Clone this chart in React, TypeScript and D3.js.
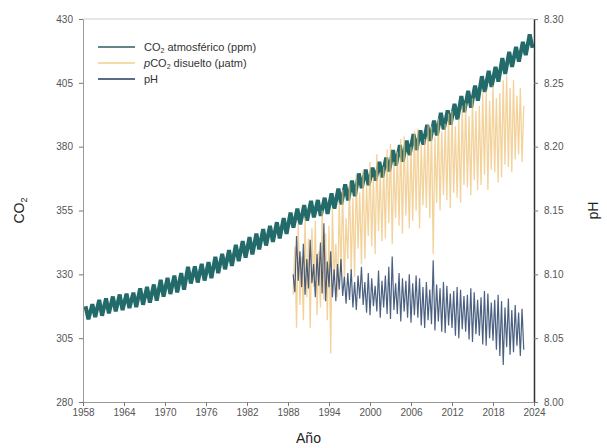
import * as d3 from "d3";
import { useRef, useEffect } from "react";

// Mauna Loa style record: seasonal maximum (May) and minimum (Oct) per year
const co2Years = d3.range(1958, 2024);
const co2May = [
  317.5, 318.3, 320.0, 320.6, 321.3, 322.1, 322.4, 322.8, 324.5, 325.1, 326.0, 327.8,
  328.6, 329.5, 330.5, 332.9, 333.1, 334.1, 334.8, 336.8, 338.0, 339.5, 341.5, 343.0,
  344.6, 345.9, 347.7, 349.0, 350.4, 352.0, 354.2, 355.7, 357.1, 358.8, 359.1, 360.0,
  361.7, 363.6, 365.2, 366.7, 369.5, 371.0, 371.8, 374.0, 375.7, 378.6, 380.6, 382.4,
  384.9, 386.4, 388.5, 390.2, 393.2, 394.2, 396.8, 399.8, 401.9, 403.9, 407.6, 409.7,
  411.2, 414.7, 417.1, 419.1, 421.0, 424.0,
];
const co2Oct = [
  312.4, 313.3, 313.8, 314.7, 315.5, 316.0, 316.8, 317.2, 318.1, 318.9, 319.7, 321.3,
  322.3, 322.9, 324.0, 326.4, 326.8, 327.6, 328.5, 330.5, 332.0, 333.3, 335.2, 336.5,
  337.8, 339.8, 341.3, 342.7, 344.1, 345.8, 348.3, 349.6, 351.0, 352.3, 352.9, 353.7,
  355.7, 357.4, 359.0, 360.6, 363.8, 364.9, 366.7, 368.0, 370.3, 372.6, 374.1, 376.7,
  378.7, 380.8, 382.3, 384.4, 386.8, 388.6, 390.7, 393.5, 395.3, 398.0, 401.5, 403.4,
  405.5, 408.5, 411.3, 413.3, 415.9, 418.7,
];

// ocean station samples, one per quarter starting late 1988
const sampleStart = 1988.75;
const pco2Values = [
  322,
  341, 309, 350, 318, 337, 312, 352, 321, 344, 309, 348, 325, 351, 314, 339, 317,
  355, 320, 346, 312, 349, 299, 356, 328, 342, 321, 358, 331, 363, 327, 352, 336,
  366, 331, 360, 329, 369, 340, 362, 334, 371, 336, 365, 345, 374, 341, 368, 338,
  377, 347, 370, 343, 372, 344, 379, 350, 381, 342, 374, 352, 378, 349, 383, 346,
  384, 353, 377, 348, 380, 351, 386, 355, 387, 348, 381, 357, 383, 356, 389, 352,
  388, 338, 384, 358, 391, 355, 386, 361, 389, 359, 393, 356, 394, 362, 388, 360,
  391, 358, 396, 365, 397, 364, 392, 361, 399, 367, 394, 363, 396, 365, 401, 369,
  402, 363, 398, 371, 404, 370, 399, 366, 401, 368, 406, 373, 408, 372, 403, 370,
  406, 375, 400, 377, 403, 374, 396,
];
const phValues = [
  8.1,
  8.086, 8.13, 8.095, 8.118, 8.09, 8.124, 8.084, 8.112, 8.089, 8.127, 8.093, 8.108,
  8.082, 8.116, 8.091, 8.125, 8.085, 8.14, 8.079, 8.11, 8.09, 8.118, 8.082, 8.104,
  8.079, 8.108, 8.088, 8.112, 8.083, 8.098, 8.077, 8.101, 8.08, 8.104, 8.074, 8.094,
  8.072, 8.099, 8.081, 8.106, 8.076, 8.094, 8.07, 8.101, 8.068, 8.097, 8.075, 8.091,
  8.071, 8.103, 8.066, 8.095, 8.074, 8.099, 8.069, 8.106, 8.065, 8.114, 8.072, 8.093,
  8.069, 8.101, 8.063, 8.097, 8.071, 8.095, 8.066, 8.1, 8.062, 8.093, 8.068, 8.099,
  8.066, 8.097, 8.06, 8.09, 8.058, 8.094, 8.064, 8.088, 8.061, 8.111, 8.056, 8.092,
  8.063, 8.089, 8.055, 8.094, 8.054, 8.091, 8.06, 8.085, 8.058, 8.087, 8.052, 8.09,
  8.05, 8.088, 8.057, 8.083, 8.055, 8.084, 8.049, 8.089, 8.047, 8.086, 8.053, 8.08,
  8.052, 8.082, 8.045, 8.087, 8.044, 8.085, 8.05, 8.078, 8.048, 8.08, 8.041, 8.084,
  8.036, 8.079, 8.029, 8.074, 8.043, 8.081, 8.037, 8.072, 8.039, 8.076, 8.044, 8.07,
  8.036, 8.073, 8.041,
];

const yearTicks = [1958, 1964, 1970, 1976, 1982, 1988, 1994, 2000, 2006, 2012, 2018, 2024];
const co2Ticks = [280, 305, 330, 355, 380, 405, 430];
const phTicks = [8.0, 8.05, 8.1, 8.15, 8.2, 8.25, 8.3];

const legendItems = [
  { key: "co2", color: "#2f5d63" },
  { key: "pco2", color: "#f1cf8e" },
  { key: "ph", color: "#223a5e" },
];

type Pt = { t: number; v: number };

function App() {
  const width = 607;
  const height = 448;
  const margin = { top: 19, right: 73, bottom: 46, left: 83 };
  const svgRef = useRef<SVGSVGElement | null>(null);

  useEffect(() => {
    const svg = d3.select(svgRef.current);
    svg.selectAll("*").remove();

    const x = d3
      .scaleLinear()
      .domain([1958, 2024])
      .range([margin.left, width - margin.right]);
    const yCo2 = d3
      .scaleLinear()
      .domain([280, 430])
      .range([height - margin.bottom, margin.top]);
    const yPh = d3
      .scaleLinear()
      .domain([8.0, 8.3])
      .range([height - margin.bottom, margin.top]);

    const font = "'Liberation Sans', Arial, sans-serif";

    // frame
    svg
      .append("line")
      .attr("x1", x(1958))
      .attr("x2", x(2024))
      .attr("y1", margin.top)
      .attr("y2", margin.top)
      .attr("stroke", "#cfcfcf");

    // series
    const co2Series: Pt[] = [];
    co2Years.forEach((yr, i) => {
      co2Series.push({ t: yr + 0.37, v: co2May[i] });
      co2Series.push({ t: yr + 0.79, v: co2Oct[i] });
    });
    const pco2Series: Pt[] = pco2Values.map((v, i) => ({ t: sampleStart + i / 4, v }));
    const phSeries: Pt[] = phValues.map((v, i) => ({ t: sampleStart + i / 4, v }));

    const lineCo2 = d3
      .line<Pt>()
      .x((d) => x(d.t))
      .y((d) => yCo2(d.v));
    const linePh = d3
      .line<Pt>()
      .x((d) => x(d.t))
      .y((d) => yPh(d.v));

    svg
      .append("path")
      .datum(co2Series)
      .attr("d", lineCo2)
      .attr("fill", "none")
      .attr("stroke", "#236a6a")
      .attr("stroke-width", 4)
      .attr("stroke-linejoin", "miter");

    svg
      .append("path")
      .datum(pco2Series)
      .attr("d", lineCo2)
      .attr("fill", "none")
      .attr("stroke", "#eebf70")
      .attr("stroke-opacity", 0.7)
      .attr("stroke-width", 1.3);

    svg
      .append("path")
      .datum(phSeries)
      .attr("d", linePh)
      .attr("fill", "none")
      .attr("stroke", "#1f3a62")
      .attr("stroke-opacity", 0.8)
      .attr("stroke-width", 1.2);

    // axes
    const styleAxis = (g: d3.Selection<SVGGElement, unknown, null, undefined>, col: string) => {
      g.selectAll("text")
        .attr("font-family", font)
        .attr("font-size", 10)
        .attr("fill", "#555");
      g.selectAll(".tick line").attr("stroke", "#777");
      g.select(".domain").attr("stroke", col);
    };

    svg
      .append("g")
      .attr("transform", `translate(${margin.left},0)`)
      .call(d3.axisLeft(yCo2).tickValues(co2Ticks).tickSize(4).tickPadding(6).tickSizeOuter(0))
      .call((g) => styleAxis(g, "#9a9a9a"));

    svg
      .append("g")
      .attr("transform", `translate(${width - margin.right},0)`)
      .call(
        d3
          .axisRight(yPh)
          .tickValues(phTicks)
          .tickFormat(d3.format(".2f"))
          .tickSize(4)
          .tickPadding(6)
          .tickSizeOuter(0)
      )
      .call((g) => styleAxis(g, "#333"))
      .call((g) => g.select(".domain").attr("stroke-width", 1.5));

    svg
      .append("g")
      .attr("transform", `translate(0,${height - margin.bottom})`)
      .call(
        d3
          .axisBottom(x)
          .tickValues(yearTicks)
          .tickFormat(d3.format("d"))
          .tickSize(4)
          .tickPadding(3)
          .tickSizeOuter(0)
      )
      .call((g) => styleAxis(g, "#9a9a9a"));

    // axis titles
    const co2Title = svg
      .append("text")
      .attr("transform", `translate(24,${(margin.top + height - margin.bottom) / 2}) rotate(-90)`)
      .attr("text-anchor", "middle")
      .attr("font-family", font)
      .attr("font-size", 14)
      .attr("fill", "#222");
    co2Title.append("tspan").text("CO");
    co2Title.append("tspan").attr("font-size", 9).attr("dy", 3).text("2");

    svg
      .append("text")
      .attr("transform", `translate(598,${(margin.top + height - margin.bottom) / 2}) rotate(-90)`)
      .attr("text-anchor", "middle")
      .attr("font-family", font)
      .attr("font-size", 14)
      .attr("fill", "#222")
      .text("pH");

    svg
      .append("text")
      .attr("x", (margin.left + width - margin.right) / 2)
      .attr("y", 443)
      .attr("text-anchor", "middle")
      .attr("font-family", font)
      .attr("font-size", 14)
      .attr("fill", "#222")
      .text("Año");

    // legend
    const legend = svg.append("g").attr("transform", "translate(98,47)");
    legendItems.forEach((item, i) => {
      const row = legend.append("g").attr("transform", `translate(0,${i * 16})`);
      row
        .append("line")
        .attr("x1", 0)
        .attr("x2", 37)
        .attr("stroke", item.color)
        .attr("stroke-width", 1.5);
      const t = row
        .append("text")
        .attr("x", 46)
        .attr("dy", "0.35em")
        .attr("font-family", font)
        .attr("font-size", 11)
        .attr("fill", "#333");
      if (item.key === "co2") {
        t.append("tspan").text("CO");
        t.append("tspan").attr("font-size", 7).attr("dy", 2).text("2");
        t.append("tspan").attr("dy", -2).text(" atmosférico (ppm)");
      } else if (item.key === "pco2") {
        t.append("tspan").attr("font-style", "italic").text("p");
        t.append("tspan").text("CO");
        t.append("tspan").attr("font-size", 7).attr("dy", 2).text("2");
        t.append("tspan").attr("dy", -2).text(" disuelto (μatm)");
      } else {
        t.text("pH");
      }
    });
  }, []);

  return (
    <svg
      ref={svgRef}
      width={width}
      height={height}
      style={{ position: "absolute", left: 0, top: 0, background: "#fff" }}
    ></svg>
  );
}

export default App;
